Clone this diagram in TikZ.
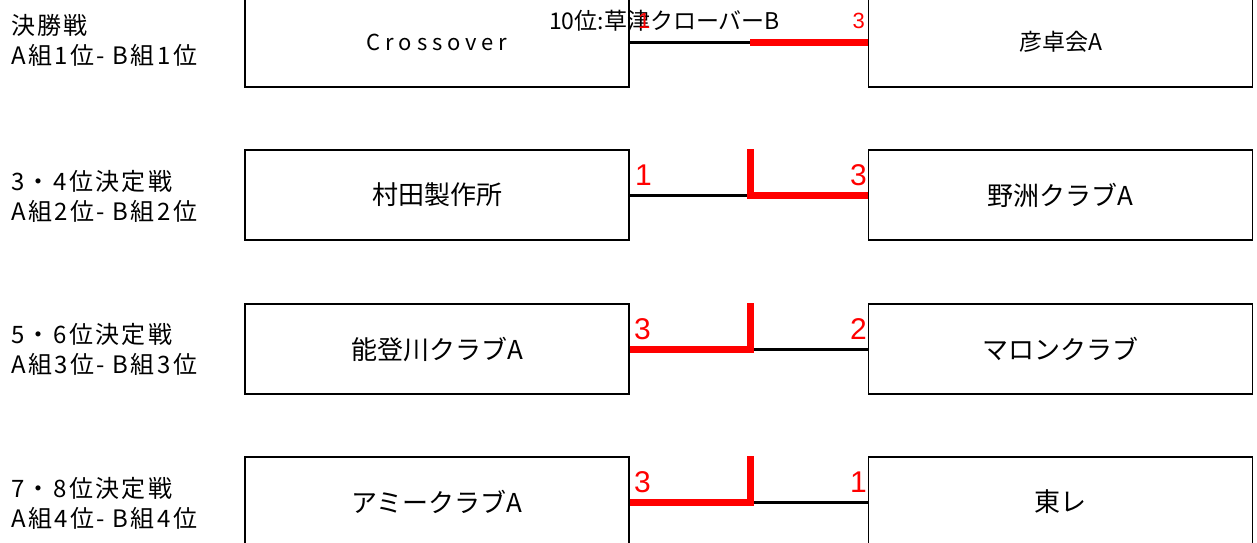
\documentclass[tikz,border=0pt]{standalone}
\usepackage{fontspec}
\setmainfont{Noto Sans CJK JP}
\newfontfamily\numfont{Liberation Sans}
\begin{document}
\begin{tikzpicture}[x=1pt,y=-1pt,
  team/.style={draw,line width=1.2pt,minimum width=384pt,minimum height=90pt,inner sep=0pt,font=\fontsize{26}{30}\selectfont},
  lose/.style={line width=3pt},
  win/.style={red,line width=7pt,line join=miter},
  score/.style={red,inner sep=0pt,font=\numfont\fontsize{30}{30}\selectfont},
  smallscore/.style={score,font=\numfont\fontsize{22}{22}\selectfont},
  stage/.style={align=left,anchor=west,inner sep=0pt,font=\addfontfeature{LetterSpace=10}\fontsize{24}{30}\selectfont}]
\useasboundingbox (0,0) rectangle (1257,542);
% Ligas
\node[stage] (S1) at (11,40) {決勝戦\\A組1位- B組1位};
\node[stage] (S2) at (11,196) {3・4位決定戦\\A組2位- B組2位};
\node[stage] (S3) at (11,349) {5・6位決定戦\\A組3位- B組3位};
\node[stage] (S4) at (11,503) {7・8位決定戦\\A組4位- B組4位};
% Equipos
\node[team] (L1) at (437,42) {\addfontfeature{LetterSpace=22}\fontsize{22}{22}\selectfont Crossover};
\node[team] (R1) at (1060.5,42) {\fontsize{23}{23}\selectfont 彦卓会A};
\node[team] (L2) at (437,195) {村田製作所};
\node[team] (R2) at (1060.5,195) {野洲クラブA};
\node[team] (L3) at (437,349) {能登川クラブA};
\node[team] (R3) at (1060.5,349) {マロンクラブ};
\node[team] (L4) at (437,502) {アミークラブA};
\node[team] (R4) at (1060.5,502) {東レ};
% Puntos medios
\coordinate (M1) at (750,42);
\coordinate (M2) at (750,195);
\coordinate (M3) at (750,349);
\coordinate (M4) at (750,502);
% Final
\draw[lose] (L1.east) -- (M1);
\draw[win] (M1) -- (R1.west);
\node[anchor=base west,inner sep=0pt,font=\fontsize{23}{23}\selectfont] (T1) at (549,29) {10位:草津クローバーB};
\node[smallscore,anchor=base west] (P1) at (638,28) {1};
\node[smallscore,anchor=base east] (Q1) at (865,28) {3};
% 3-4
\draw[lose] (L2.east) -- (M2);
\draw[win] (M2 |- L2.north) -- (M2) -- (R2.west);
\node[score,anchor=base west] (P2) at (635,185) {1};
\node[score,anchor=base east] (Q2) at (867,185) {3};
% 5-6
\draw[lose] (M3) -- (R3.west);
\draw[win] (L3.east) -- (M3) -- (M3 |- L3.north);
\node[score,anchor=base west] (P3) at (634,339) {3};
\node[score,anchor=base east] (Q3) at (867,339) {2};
% 7-8
\draw[lose] (M4) -- (R4.west);
\draw[win] (L4.east) -- (M4) -- (M4 |- L4.north);
\node[score,anchor=base west] (P4) at (634,492) {3};
\node[score,anchor=base east] (Q4) at (867,492) {1};
\end{tikzpicture}
\end{document}
